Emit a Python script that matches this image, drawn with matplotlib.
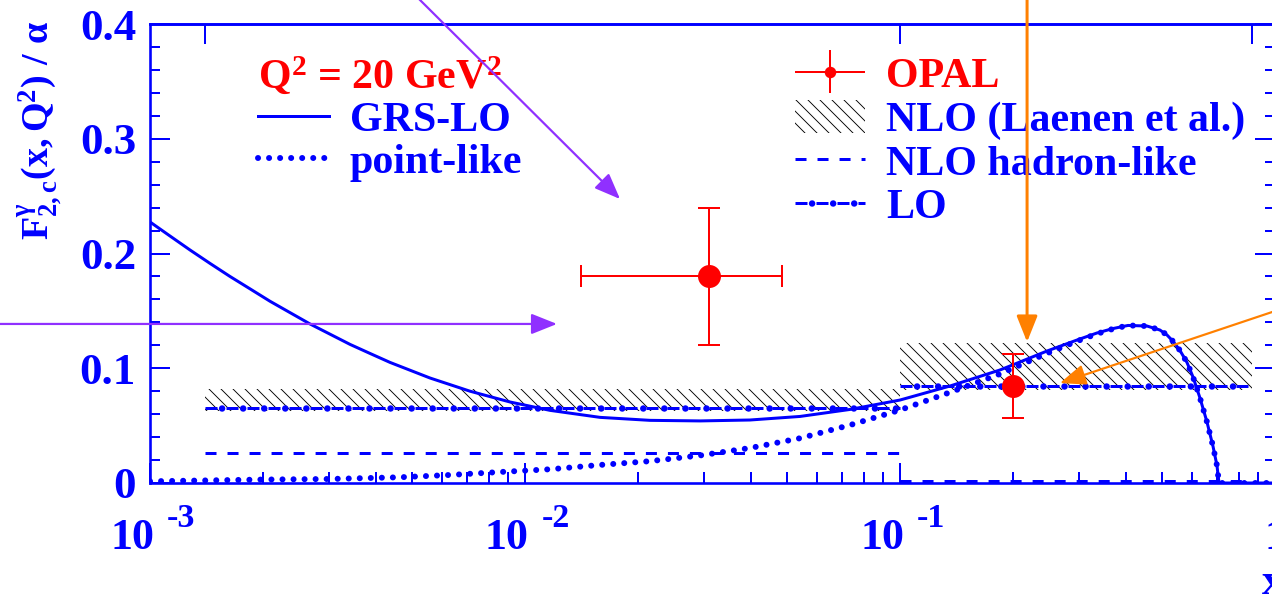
import matplotlib
matplotlib.use("Agg")
import matplotlib.pyplot as plt
from matplotlib.ticker import MultipleLocator, NullFormatter, NullLocator, LogLocator
from matplotlib.transforms import offset_copy
from matplotlib.legend_handler import HandlerErrorbar, HandlerTuple
from matplotlib.container import ErrorbarContainer
from matplotlib.font_manager import FontProperties

DPI = 144


def px(v):
    """Convert a length in pixels to points for this figure."""
    return v * 72.0 / DPI


BLUE = "#0000ff"
RED = "#ff0000"
PURPLE = "#9030ff"
ORANGE = "#ff8000"

# ---------------------------------------------------------------- data
# GRS-LO prediction (solid)
grs_x = [0.001, 0.00113, 0.001278, 0.001445, 0.001634, 0.001848, 0.002089,
         0.002362, 0.002671, 0.00302, 0.003415, 0.003861, 0.004365, 0.00558,
         0.007134, 0.00912, 0.01166, 0.01585, 0.02154, 0.02929, 0.03981,
         0.05412, 0.07356, 0.1, 0.1359, 0.1848, 0.2001, 0.2466, 0.2965,
         0.335, 0.3698, 0.4055, 0.4557, 0.4934, 0.5152, 0.5346, 0.558,
         0.5825, 0.6043, 0.631, 0.6588, 0.6834, 0.7004, 0.709, 1.0]
grs_y = [0.2275, 0.2153, 0.2031, 0.1914, 0.1800, 0.1692, 0.1584,
         0.1485, 0.1386, 0.1297, 0.1208, 0.1129, 0.1051, 0.0915,
         0.0800, 0.0706, 0.0633, 0.0572, 0.0546, 0.0541, 0.0549,
         0.0580, 0.0641, 0.0723, 0.0845, 0.0985, 0.1030, 0.1150, 0.1246,
         0.1307, 0.1346, 0.1373, 0.1368, 0.1333, 0.1290, 0.1235, 0.1155,
         0.1050, 0.0925, 0.0740, 0.0530, 0.0320, 0.0150, 0.0, 0.0]

# point-like contribution (dotted)
pl_x = [0.001, 0.002, 0.003, 0.00464, 0.0063, 0.0086, 0.0117, 0.0158,
        0.0215, 0.0293, 0.0398, 0.0541, 0.0736, 0.1, 0.1359, 0.1848, 0.2001,
        0.2466, 0.2965, 0.335, 0.3698, 0.4055, 0.4557, 0.4934, 0.5152,
        0.5346, 0.558, 0.5825, 0.6043, 0.631, 0.6588, 0.6834, 0.7004,
        0.709, 1.0]
pl_y = [0.0015, 0.003, 0.0035, 0.005, 0.007, 0.0096, 0.012, 0.0157,
        0.019, 0.024, 0.0305, 0.039, 0.0505, 0.0636, 0.0790, 0.0950, 0.1000,
        0.1130, 0.1236, 0.1300, 0.1343, 0.1373, 0.1368, 0.1333, 0.1290,
        0.1235, 0.1155, 0.1050, 0.0925, 0.0740, 0.0530, 0.0320, 0.0150,
        0.0, 0.0]

# x bins of the measurement
bin_lo = [0.0014, 0.1]
bin_hi = [0.1, 0.87]
nlo_band_lo = [0.063, 0.081]
nlo_band_hi = [0.082, 0.122]
nlo_hadron = [0.026, 0.0015]
lo_pred = [0.065, 0.0845]

# OPAL measurement
opal_x = [0.031, 0.2]
opal_y = [0.180, 0.0845]
opal_xerr_lo = [0.0169, 0.0]
opal_xerr_hi = [0.0174, 0.0]
opal_yerr = [0.060, 0.028]

x_major = [1e-3, 1e-2, 1e-1]
x_exponents = ["-3", "-2", "-1"]
y_ticks = [0.0, 0.1, 0.2, 0.3, 0.4]
y_ticklabels = ["0", "0.1", "0.2", "0.3", "0.4"]

# ---------------------------------------------------------------- style
plt.rcParams.update({
    "font.family": ["Liberation Serif", "DejaVu Serif"],
    "font.weight": "bold",
    "mathtext.fontset": "custom",
    "mathtext.rm": "Liberation Serif:bold",
    "mathtext.bf": "Liberation Serif:bold",
    "mathtext.it": "Liberation Serif:bold",
    "mathtext.default": "rm",
    "hatch.color": "black",
    "hatch.linewidth": 0.45,
})

fig = plt.figure(figsize=(1272 / DPI, 597 / DPI), dpi=DPI)
ax = fig.add_axes([150 / 1272, 114 / 597, 1125 / 1272, 459 / 597])
ax.set_xscale("log")
ax.set_xlim(1e-3, 1.0)
ax.set_ylim(0.0, 0.4)

for side in ("left", "right", "top", "bottom"):
    ax.spines[side].set_color(BLUE)
    ax.spines[side].set_linewidth(px(2.6))

# ---------------------------------------------------------------- NLO band
band = None
for lo, hi, blo, bhi in zip(bin_lo, bin_hi, nlo_band_lo, nlo_band_hi):
    band = ax.fill_between([lo, hi], [blo, blo], [bhi, bhi], facecolor="none",
                           edgecolor="black", hatch="\\\\\\\\", linewidth=0,
                           zorder=1)

# NLO hadron-like (dashed)
had_line = None
for lo, hi, v in zip(bin_lo, bin_hi, nlo_hadron):
    (had_line,) = ax.plot([lo, hi], [v, v], color=BLUE, lw=px(3),
                          linestyle=(0, (3.67, 3.67)), zorder=2)

# LO (dashes with dots)
lo_dash = lo_dot = None
for lo, hi, v in zip(bin_lo, bin_hi, lo_pred):
    (lo_dash,) = ax.plot([lo, hi], [v, v], color=BLUE, lw=px(3),
                         linestyle=(0, (4.0, 3.0)), zorder=2)
    (lo_dot,) = ax.plot([lo, hi], [v, v], color=BLUE, lw=px(6.5),
                        linestyle=(0.69, (0.01, 3.23)),
                        dash_capstyle="round", zorder=2)

# GRS-LO and point-like curves
(grs_line,) = ax.plot(grs_x, grs_y, color=BLUE, lw=px(3), zorder=3)
(pl_line,) = ax.plot(pl_x, pl_y, color=BLUE, lw=px(6),
                     linestyle=(0, (0.01, 1.83)), dash_capstyle="round",
                     zorder=3)

# OPAL points
opal_cont = []
for xv, yv, xl, xh, ye in zip(opal_x, opal_y, opal_xerr_lo, opal_xerr_hi, opal_yerr):
    xerr = [[xl], [xh]] if (xl > 0 or xh > 0) else None
    c = ax.errorbar([xv], [yv], xerr=xerr, yerr=[ye], fmt="o", color=RED,
                    ms=px(21), elinewidth=px(2), capsize=px(11),
                    capthick=px(2), zorder=5)
    opal_cont.append(c)

# legend proxy for OPAL: bars without caps
c0 = opal_cont[0]
opal_proxy = ErrorbarContainer((c0.lines[0], (), c0.lines[2]),
                               has_xerr=True, has_yerr=True)

# ---------------------------------------------------------------- ticks
ax.yaxis.set_major_locator(plt.FixedLocator(y_ticks))
ax.set_yticklabels(y_ticklabels)
ax.yaxis.set_minor_locator(MultipleLocator(0.02))
ax.tick_params(axis="y", which="both", direction="in", left=True, right=True,
               color=BLUE, width=px(2), labelcolor=BLUE, labelsize=22.5,
               pad=7)
ax.tick_params(axis="y", which="major", length=px(20))
ax.tick_params(axis="y", which="minor", length=px(10))

ax.xaxis.set_major_locator(plt.FixedLocator(x_major + [1.0]))
ax.xaxis.set_minor_locator(LogLocator(base=10, subs=range(2, 10), numticks=20))
ax.xaxis.set_major_formatter(NullFormatter())
ax.xaxis.set_minor_formatter(NullFormatter())
ax.tick_params(axis="x", which="both", direction="in", bottom=True, top=False,
               color=BLUE, width=px(2))
ax.tick_params(axis="x", which="major", length=px(20))
ax.tick_params(axis="x", which="minor", length=px(11))

# bin edges marked along the top
sec = ax.secondary_xaxis("top")
sec.set_xticks(bin_lo + bin_hi[-1:])
sec.xaxis.set_minor_locator(NullLocator())
sec.xaxis.set_major_formatter(NullFormatter())
sec.tick_params(axis="x", direction="in", length=px(20), width=px(2), color=BLUE)
sec.spines["top"].set_color(BLUE)
sec.spines["top"].set_linewidth(px(2.6))

# x tick labels written as 10 with a raised exponent
xtrans = ax.get_xaxis_transform()
for xv, ex in zip(x_major, x_exponents):
    ax.text(xv, 0, "10", transform=offset_copy(xtrans, fig, x=4, y=-66, units="dots"),
            ha="right", va="baseline", fontsize=22, color=BLUE)
    ax.text(xv, 0, ex, transform=offset_copy(xtrans, fig, x=17, y=-44, units="dots"),
            ha="left", va="baseline", fontsize=17, color=BLUE)
ax.text(1.0, 0, "1", transform=offset_copy(xtrans, fig, x=0, y=-66, units="dots"),
        ha="center", va="baseline", fontsize=22, color=BLUE, clip_on=False)
ax.text(1.0, 0, "x", transform=offset_copy(xtrans, fig, x=9, y=-111, units="dots"),
        ha="right", va="baseline", fontsize=22, color=BLUE, clip_on=False)

ax.set_ylabel(r"$F^{\gamma}_{2,c}(x,Q^{2})\ /\ \alpha$", fontsize=19, color=BLUE)
ax.yaxis.label.set_va("center")
ax.yaxis.set_label_coords(-0.0975, 0.769)

# ---------------------------------------------------------------- legends
lfont = FontProperties(family="Liberation Serif", weight="bold", size=21)
leg1 = ax.legend(handles=[grs_line, pl_line], labels=["GRS-LO", "point-like"],
                 title=r"Q$^{2}$ = 20 GeV$^{2}$", title_fontproperties=lfont,
                 alignment="left", prop=lfont, labelcolor=BLUE,
                 loc="upper left", bbox_to_anchor=(108 / 1125, 427 / 459),
                 frameon=False, handlelength=1.7, handletextpad=0.48,
                 labelspacing=0.08, borderpad=0, borderaxespad=0)
leg1.get_title().set_color(RED)
ax.add_artist(leg1)

leg2 = ax.legend(handles=[opal_proxy, band, had_line, (lo_dash, lo_dot)],
                 labels=["OPAL", "NLO (Laenen et al.)", "NLO hadron-like", "LO"],
                 prop=lfont, labelcolor=BLUE, loc="upper left",
                 bbox_to_anchor=(645 / 1125, 427 / 459), frameon=False,
                 handlelength=1.67, handleheight=0.85, handletextpad=0.5,
                 labelspacing=0.08, borderpad=0, borderaxespad=0,
                 markerscale=0.45,
                 handler_map={ErrorbarContainer: HandlerErrorbar(xerr_size=0.83, yerr_size=0.51),
                              tuple: HandlerTuple(ndivide=1, pad=0)})
leg2.get_texts()[0].set_color(RED)

# ---------------------------------------------------------------- arrows
def arrow(tail, tip, color, lw):
    ax.annotate("", xy=tip, xytext=tail, xycoords="data", textcoords="data",
                annotation_clip=False, zorder=10,
                arrowprops=dict(arrowstyle="-|>,head_length=0.5,head_width=0.2",
                                mutation_scale=22, color=color, lw=lw,
                                shrinkA=0, shrinkB=0))


arrow((0.004585, 0.44), (0.01792, 0.2475), PURPLE, px(2.2))
arrow((0.000374, 0.1386), (0.01217, 0.1386), PURPLE, px(2.2))
arrow((0.2182, 0.44), (0.2182, 0.1229), ORANGE, px(3))
arrow((1.096, 0.1542), (0.267, 0.0871), ORANGE, px(2.2))

fig.savefig("out.png", dpi=DPI)
